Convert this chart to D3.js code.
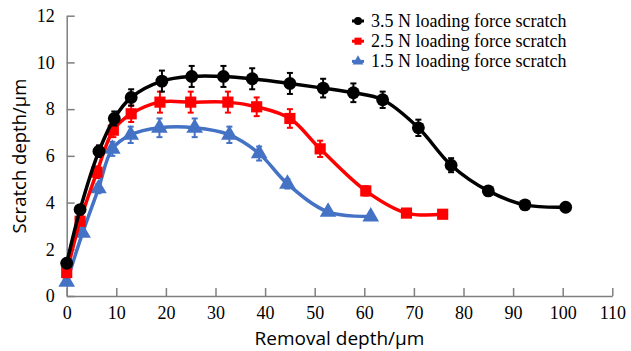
<!DOCTYPE html>
<html><head><meta charset="utf-8">
<script src="https://cdn.jsdelivr.net/npm/d3@7"></script>
<style>body{margin:0;background:#fff}svg{display:block}
.serif{font-family:"Liberation Serif","Tinos","DejaVu Serif","Times New Roman",serif}
.sans{font-family:"Open Sans","Liberation Sans",sans-serif}</style>
</head><body><svg id="c" width="631" height="351"></svg>
<script>
const seriesNames = ["3.5 N loading force scratch", "2.5 N loading force scratch", "1.5 N loading force scratch"];
const blackX = [0, 2.7, 6.5, 9.6, 13, 19.2, 25.2, 31.6, 37.4, 45, 51.7, 57.8, 63.7, 70.9, 77.5, 85, 92.4, 100.6];
const blackY = [1.4, 3.7, 6.2, 7.6, 8.5, 9.2, 9.4, 9.4, 9.3, 9.1, 8.9, 8.7, 8.4, 7.2, 5.6, 4.5, 3.9, 3.8];
const blackErr = [0, 0, 0.25, 0.3, 0.35, 0.45, 0.45, 0.45, 0.45, 0.45, 0.4, 0.4, 0.35, 0.35, 0.3, 0, 0, 0];
const redX = [0, 2.7, 6.1, 9.4, 13, 18.8, 25, 32.5, 38.3, 45, 51.1, 60.3, 68.5, 75.8];
const redY = [1.0, 3.2, 5.3, 7.1, 7.8, 8.3, 8.3, 8.3, 8.1, 7.6, 6.3, 4.5, 3.55, 3.5];
const redErr = [0, 0, 0.25, 0.3, 0.35, 0.45, 0.45, 0.45, 0.4, 0.4, 0.35, 0.2, 0, 0];
const blueX = [0, 3.2, 6.4, 9.2, 12.9, 18.7, 25.8, 32.8, 38.8, 44.5, 52.7, 61.3];
const blueY = [0.6, 2.7, 4.6, 6.3, 6.9, 7.2, 7.2, 6.9, 6.1, 4.8, 3.6, 3.4];
const blueErr = [0, 0, 0.2, 0.3, 0.35, 0.4, 0.4, 0.35, 0.3, 0.2, 0, 0];
const xTicks = [0, 10, 20, 30, 40, 50, 60, 70, 80, 90, 100, 110];
const yTicks = [0, 2, 4, 6, 8, 10, 12];
const colors = ["#000000", "#ff0000", "#4472c4"];
const symbols = [d3.symbolCircle, d3.symbolSquare, d3.symbolTriangle];
const symSizes = [130, 125, 120];

const svg = d3.select("#c");
const x = d3.scaleLinear().domain([0, 110]).range([66.7, 612.3]);
const y = d3.scaleLinear().domain([0, 12]).range([296, 15.7]);
const axisColor = "#7f7f7f";

const gx = svg.append("g").attr("transform", `translate(0,${y(0)})`)
  .call(d3.axisBottom(x).tickValues(xTicks).tickSize(-8).tickPadding(10).tickSizeOuter(0));
const gy = svg.append("g").attr("transform", `translate(${x(0)},0)`)
  .call(d3.axisLeft(y).tickValues(yTicks).tickSize(-8).tickPadding(12).tickSizeOuter(0));
[gx, gy].forEach(g => {
  g.attr("font-family", null).attr("font-size", null);
  g.select(".domain").attr("stroke", axisColor).attr("stroke-width", 1.5);
  g.selectAll(".tick line").attr("stroke", axisColor).attr("stroke-width", 1.5);
  g.selectAll(".tick text").attr("fill", "#000").attr("class", "serif").style("font-size", "18px");
});

svg.append("text").attr("class", "sans").attr("x", 339.5).attr("y", 345).attr("text-anchor", "middle")
  .style("font-size", "19px").text("Removal depth/μm");
svg.append("text").attr("class", "sans").attr("transform", "translate(26,156) rotate(-90)").attr("text-anchor", "middle")
  .style("font-size", "18.5px").text("Scratch depth/μm");

const series = [
  {xs: blackX, ys: blackY, es: blackErr},
  {xs: redX, ys: redY, es: redErr},
  {xs: blueX, ys: blueY, es: blueErr}
];
const line = d3.line().x(d => x(d[0])).y(d => y(d[1])).curve(d3.curveCatmullRom.alpha(0.5));

[2, 1, 0].forEach(i => {
  const s = series[i];
  const pts = s.xs.map((v, j) => [v, s.ys[j], s.es[j]]);
  const g = svg.append("g");
  g.append("path").datum(pts).attr("d", line).attr("fill", "none")
    .attr("stroke", colors[i]).attr("stroke-width", 3.5);
  const eb = g.selectAll(".eb").data(pts.filter(d => d[2] > 0)).enter().append("g");
  eb.append("line").attr("x1", d => x(d[0])).attr("x2", d => x(d[0]))
    .attr("y1", d => y(d[1] - d[2])).attr("y2", d => y(d[1] + d[2]))
    .attr("stroke", colors[i]).attr("stroke-width", 2);
  [-1, 1].forEach(sg => {
    eb.append("line").attr("x1", d => x(d[0]) - 3).attr("x2", d => x(d[0]) + 3)
      .attr("y1", d => y(d[1] + sg * d[2])).attr("y2", d => y(d[1] + sg * d[2]))
      .attr("stroke", colors[i]).attr("stroke-width", 2);
  });
  g.selectAll(".m").data(pts).enter().append("path")
    .attr("d", d3.symbol().type(symbols[i]).size(symSizes[i]))
    .attr("transform", d => `translate(${x(d[0])},${y(d[1])})`)
    .attr("fill", colors[i]);
});

const leg = svg.append("g");
seriesNames.forEach((n, i) => {
  const yy = 21 + i * 20.2;
  leg.append("line").attr("x1", 352).attr("x2", 364).attr("y1", yy).attr("y2", yy)
    .attr("stroke", colors[i]).attr("stroke-width", 3);
  leg.append("path").attr("d", d3.symbol().type(symbols[i]).size(50))
    .attr("transform", `translate(358,${yy})`).attr("fill", colors[i]);
  leg.append("text").attr("class", "serif").attr("x", 371).attr("y", yy + 6)
    .style("font-size", "18px").text(n);
});
</script></body></html>
